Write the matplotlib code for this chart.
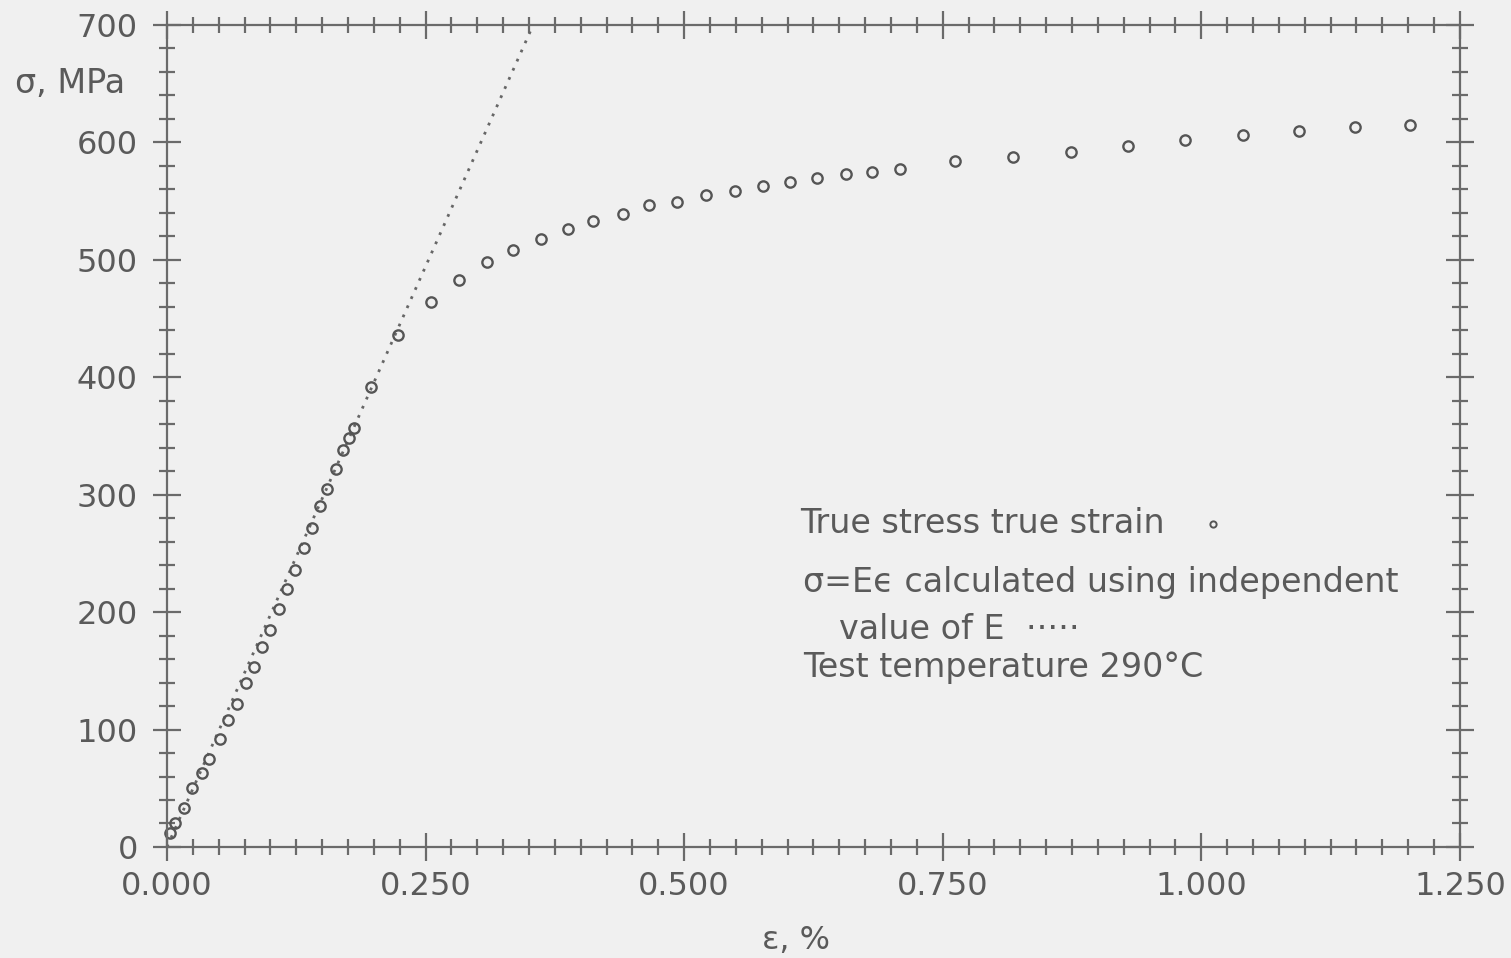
import matplotlib
matplotlib.use("Agg")
import matplotlib.pyplot as plt
from matplotlib.ticker import MultipleLocator, FormatStrFormatter

# true stress - true strain points (strain in %, stress in MPa)
strain = [0.003, 0.008, 0.016, 0.024, 0.034, 0.041, 0.051, 0.059, 0.068, 0.076,
          0.084, 0.092, 0.100, 0.108, 0.116, 0.124, 0.132, 0.140, 0.148, 0.155,
          0.163, 0.170, 0.176, 0.181, 0.197, 0.223,
          0.255, 0.282, 0.309, 0.335, 0.362, 0.388, 0.412, 0.441, 0.466, 0.493,
          0.521, 0.549, 0.576, 0.602, 0.628, 0.656, 0.682, 0.709, 0.762, 0.818,
          0.874, 0.929, 0.984, 1.040, 1.094, 1.149, 1.202]
stress = [12, 20, 33, 50, 63, 75, 92, 108, 122, 140,
          153, 170, 185, 203, 220, 236, 255, 272, 290, 305,
          322, 338, 348, 357, 392, 436,
          464, 483, 498, 508, 518, 526, 533, 539, 547, 549,
          555, 559, 563, 566, 570, 573, 575, 577, 584, 588,
          592, 597, 602, 606, 610, 613, 615]

# sigma = E*eps with independent E (~198 GPa)
line_strain = [0.0, 0.354]
line_stress = [0.0, 700.0]

BG = "#f0f0f0"
INK = "#5a5a5a"

plt.rcParams["font.family"] = ["DejaVu Sans"]

fig = plt.figure(figsize=(15.11, 9.58), dpi=100, facecolor=BG)
ax = fig.add_axes([0.1105, 0.1159, 0.8557, 0.8580], facecolor=BG)

ax.plot(line_strain, line_stress, linestyle=(0, (1, 2.6)), linewidth=2.0, color="#666666")
ax.plot(strain, stress, linestyle="none", marker="o", markersize=7.4,
        markerfacecolor="none", markeredgecolor="#555555", markeredgewidth=1.7,
        clip_on=False)

ax.set_xlim(0, 1.25)
ax.set_ylim(0, 700)
ax.xaxis.set_major_locator(MultipleLocator(0.25))
ax.xaxis.set_minor_locator(MultipleLocator(0.025))
ax.yaxis.set_major_locator(MultipleLocator(100))
ax.yaxis.set_minor_locator(MultipleLocator(20))
ax.xaxis.set_major_formatter(FormatStrFormatter("%.3f"))

for s in ax.spines.values():
    s.set_color("#6a6a6a")
    s.set_linewidth(1.6)

ax.tick_params(which="both", direction="inout", top=True, right=True,
               color="#6a6a6a", labelcolor=INK, labelsize=23)
ax.tick_params(which="major", length=20, width=1.6)
ax.tick_params(which="minor", length=12, width=1.6)
ax.tick_params(axis="x", which="major", pad=7)
ax.tick_params(axis="y", which="major", pad=11)

fig.text(0.010, 0.913, "σ, MPa", fontsize=24, color=INK, va="center", ha="left")
fig.text(0.527, 0.018, "ε, %", fontsize=23, color=INK, va="center", ha="center")

# key text
ax.text(0.490, 0.393, "True stress true strain", transform=ax.transAxes,
        fontsize=24, color=INK, va="center", ha="left")
ax.plot([0.809], [0.393], transform=ax.transAxes, linestyle="none", marker="o",
        markersize=4.5, markerfacecolor="none", markeredgecolor="#555555",
        markeredgewidth=1.4, clip_on=False)
ax.text(0.492, 0.322, "σ=Eϵ calculated using independent", transform=ax.transAxes,
        fontsize=24, color=INK, va="center", ha="left")
ax.text(0.520, 0.265, "value of E  ·····", transform=ax.transAxes,
        fontsize=24, color=INK, va="center", ha="left")
ax.text(0.492, 0.218, "Test temperature 290°C", transform=ax.transAxes,
        fontsize=24, color=INK, va="center", ha="left")

fig.savefig("out.png", dpi=100, facecolor=BG)
